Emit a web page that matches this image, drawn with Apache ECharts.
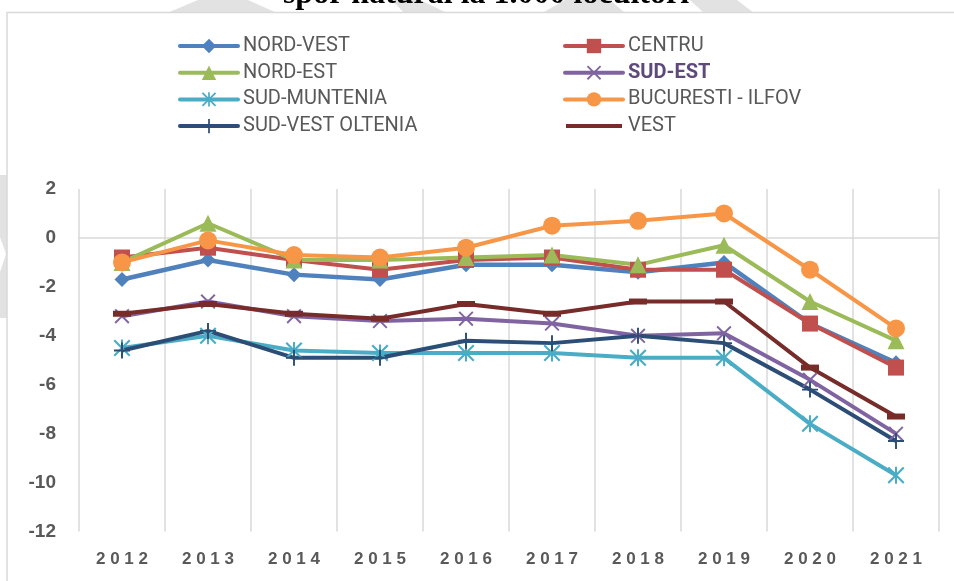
<!DOCTYPE html>
<html>
<head>
<meta charset="utf-8">
<script src="https://cdn.jsdelivr.net/npm/echarts@6.0.0/dist/echarts.min.js"></script>
<style>
html, body { margin: 0; padding: 0; background: #ffffff; }
#spor { width: 954px; height: 581px; }
</style>
</head>
<body>
<div id="spor"></div>
<script>
// ani
var years = ['2012', '2013', '2014', '2015', '2016', '2017', '2018', '2019', '2020', '2021'];

// spor natural la 1.000 locuitori, pe regiuni
var nordVest = [-1.7, -0.9, -1.5, -1.7, -1.1, -1.1, -1.4, -1.0, -3.5, -5.1];
var centru = [-0.8, -0.4, -0.9, -1.3, -0.9, -0.8, -1.3, -1.3, -3.5, -5.3];
var nordEst = [-1.0, 0.6, -0.9, -0.9, -0.8, -0.7, -1.1, -0.3, -2.6, -4.2];
var sudEst = [-3.2, -2.6, -3.2, -3.4, -3.3, -3.5, -4.0, -3.9, -5.8, -8.0];
var sudMuntenia = [-4.5, -4.0, -4.6, -4.7, -4.7, -4.7, -4.9, -4.9, -7.6, -9.7];
var bucuresti = [-1.0, -0.1, -0.7, -0.8, -0.4, 0.5, 0.7, 1.0, -1.3, -3.7];
var sudVestOltenia = [-4.6, -3.8, -4.9, -4.9, -4.2, -4.3, -4.0, -4.3, -6.2, -8.3];
var vest = [-3.1, -2.7, -3.1, -3.3, -2.7, -3.1, -2.6, -2.6, -5.3, -7.3];

// axa y
var yMin = -12;
var yMax = 2;
var yStep = 2;

var titlu = 'spor natural la 1.000 locuitori';

// markere Excel care nu exista in echarts
var xPath = 'path://M0.9,0L10,9.1L9.1,10L0,0.9Z M9.1,0L10,0.9L0.9,10L0,9.1Z';
var starPath = xPath + ' M4.4,0L5.6,0L5.6,10L4.4,10Z';
var plusPath = 'path://M4.4,0L5.6,0L5.6,10L4.4,10Z M0,4.4L10,4.4L10,5.6L0,5.6Z';
// doar linie in legenda pt VEST (punctele goale tin inaltimea)
var dashIcon = 'path://M0,0L58,0Z M1,7L57,7L57,11L1,11Z M0,18L58,18Z';

function linie(name, data, color, symbol, size, width) {
  return {
    name: name,
    type: 'line',
    data: data,
    xAxisIndex: 0,
    symbol: symbol,
    symbolSize: size,
    showAllSymbol: true,
    lineStyle: { color: color, width: width || 4 },
    itemStyle: { color: color },
    emphasis: { disabled: true }
  };
}

var legendText = { color: '#595959', fontSize: 20, lineHeight: 20, fontFamily: 'Roboto' };

var Chart = echarts.init(document.getElementById('spor'));
Chart.setOption({
  animation: false,
  backgroundColor: '#ffffff',
  graphic: [
    // urme gri din fundalul documentului
    { type: 'polygon', z: -20, shape: { points: [[167, 13], [198, 0], [248, 0], [277, 13]] }, style: { fill: '#e2e2e2' } },
    { type: 'polygon', z: -20, shape: { points: [[392, 0], [420, 0], [447, 13], [404, 13]] }, style: { fill: '#e2e2e2' } },
    { type: 'polygon', z: -20, shape: { points: [[542, 13], [565, 0], [610, 0], [625, 13]] }, style: { fill: '#e2e2e2' } },
    { type: 'polygon', z: -20, shape: { points: [[690, 0], [737, 0], [754, 13], [704, 13]] }, style: { fill: '#e2e2e2' } },
    { type: 'polygon', z: -20, shape: { points: [[0, 175], [8, 175], [8, 318], [0, 318], [0, 272], [6, 254], [0, 237]] }, style: { fill: '#e2e2e2' } },
    {
      type: 'text', z: -15,
      style: {
        text: titlu, x: 486, y: 11,
        align: 'center', verticalAlign: 'bottom',
        font: 'bold 32px "Liberation Serif"', fill: '#000000'
      }
    },
    // chenarul graficului
    {
      type: 'rect', z: -10,
      shape: { x: 7, y: 12.5, width: 960, height: 600 },
      style: { fill: '#ffffff', stroke: '#d9d9d9', lineWidth: 1.5 }
    }
  ],
  legend: [
    {
      orient: 'vertical',
      left: 173,
      top: 31,
      itemWidth: 58,
      itemHeight: 18,
      itemGap: 6.7,
      lineStyle: { width: 4, cap: 'round' },
      textStyle: legendText,
      data: ['NORD-VEST', 'NORD-EST', 'SUD-MUNTENIA', 'SUD-VEST OLTENIA']
    },
    {
      orient: 'vertical',
      left: 558,
      top: 31,
      itemWidth: 58,
      itemHeight: 18,
      itemGap: 6.7,
      lineStyle: { width: 4, cap: 'round' },
      textStyle: legendText,
      data: [
        'CENTRU',
        { name: 'SUD-EST', textStyle: { color: '#5f497a', fontWeight: 'bold' } },
        'BUCURESTI - ILFOV',
        { name: 'VEST', icon: dashIcon }
      ]
    }
  ],
  grid: {
    left: 79,
    right: 15,
    top: 189,
    bottom: 49.5
  },
  xAxis: [
    {
      type: 'category',
      data: years,
      position: 'bottom',
      axisLine: { show: false, onZero: false },
      axisTick: { show: false },
      splitLine: { show: true, lineStyle: { color: '#d9d9d9', width: 1.5 } },
      axisLabel: {
        margin: 19,
        color: '#595959',
        fontSize: 17,
        fontWeight: 'bold',
        fontFamily: 'Liberation Sans',
        formatter: function (v) { return v.split('').join(' '); }
      }
    },
    {
      // linia de la zero
      type: 'category',
      data: years,
      position: 'top',
      axisLine: { show: true, onZero: true, lineStyle: { color: '#d9d9d9', width: 1.5 } },
      axisTick: { show: false },
      axisLabel: { show: false },
      splitLine: { show: false }
    }
  ],
  yAxis: {
    type: 'value',
    min: yMin,
    max: yMax,
    interval: yStep,
    axisLine: { show: false },
    axisTick: { show: false },
    splitLine: { show: false },
    axisLabel: {
      margin: 23,
      color: '#595959',
      fontSize: 19,
      fontWeight: 'bold',
      fontFamily: 'Liberation Sans'
    }
  },
  series: [
    linie('NORD-VEST', nordVest, '#4f81bd', 'diamond', 15, 4.5),
    linie('CENTRU', centru, '#c0504d', 'rect', 16),
    linie('NORD-EST', nordEst, '#9bbb59', 'triangle', 17),
    linie('SUD-EST', sudEst, '#8064a2', xPath, 15),
    linie('SUD-MUNTENIA', sudMuntenia, '#4bacc6', starPath, 17),
    linie('BUCURESTI - ILFOV', bucuresti, '#f79646', 'circle', 18),
    linie('SUD-VEST OLTENIA', sudVestOltenia, '#2c4d75', plusPath, 16),
    linie('VEST', vest, '#772c2a', 'rect', [18, 6])
  ]
});
</script>
</body>
</html>
